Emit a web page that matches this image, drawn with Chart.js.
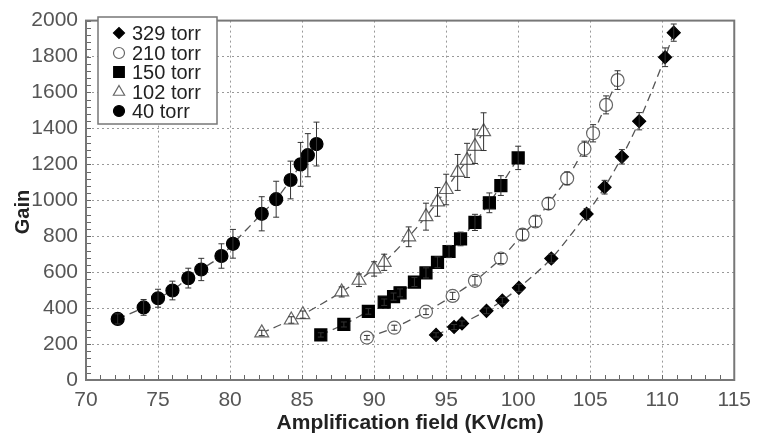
<!DOCTYPE html>
<html><head><meta charset="utf-8">
<script src="https://cdn.jsdelivr.net/npm/chart.js@4/dist/chart.umd.min.js"></script>
<style>html,body{margin:0;padding:0;background:#fff}#wrap{width:759px;height:441px}</style>
</head><body><div id="wrap"><canvas id="c" width="759" height="441"></canvas></div>
<script>
// ---- data ----
const labels = ["329 torr", "210 torr", "150 torr", "102 torr", "40 torr"];

const field329 = [94.3, 95.55, 96.1, 97.8, 98.9, 100.05, 102.3, 104.75, 106.0, 107.2, 108.4, 110.2, 110.8];
const gain329  = [251, 295, 315, 385, 442, 513, 676, 924, 1073, 1242, 1440, 1796, 1933];
const err329   = [12, 14, 14, 16, 18, 20, 24, 30, 38, 40, 48, 52, 48];

const field210 = [89.5, 91.4, 93.6, 95.45, 97.0, 98.8, 100.3, 101.2, 102.1, 103.4, 104.6, 105.2, 106.1, 106.9];
const gain210  = [236, 291, 380, 468, 552, 676, 809, 882, 982, 1122, 1287, 1373, 1531, 1669];
const err210   = [12, 14, 16, 20, 24, 28, 30, 30, 32, 36, 42, 48, 50, 52];

const field150 = [86.3, 87.9, 89.6, 90.7, 91.35, 91.8, 92.8, 93.6, 94.4, 95.2, 96.0, 97.0, 98.0, 98.8, 100.0];
const gain150  = [251, 309, 382, 433, 464, 485, 545, 596, 655, 715, 785, 877, 986, 1082, 1236];
const err150   = [12, 14, 16, 18, 20, 22, 25, 28, 30, 34, 38, 45, 55, 55, 65];

const field102 = [82.2, 84.25, 85.05, 87.75, 88.95, 90.0, 90.7, 92.4, 93.6, 94.4, 95.0, 95.8, 96.45, 97.0, 97.6];
const gain102  = [262, 334, 364, 490, 555, 618, 655, 797, 909, 991, 1060, 1155, 1222, 1300, 1382];
const err102   = [15, 18, 20, 28, 35, 40, 45, 55, 75, 80, 85, 100, 95, 95, 105];

const field40 = [72.2, 74.0, 75.0, 76.0, 77.1, 78.0, 79.4, 80.2, 82.2, 83.2, 84.2, 84.9, 85.4, 86.0];
const gain40  = [340, 404, 455, 498, 567, 615, 690, 758, 925, 1006, 1113, 1200, 1251, 1313];
const err40   = [28, 44, 50, 52, 55, 62, 68, 80, 95, 100, 105, 122, 120, 122];

const xTicks = [70, 75, 80, 85, 90, 95, 100, 105, 110, 115];
const yTicks = [0, 200, 400, 600, 800, 1000, 1200, 1400, 1600, 1800, 2000];
const xTitle = 'Amplification field (KV/cm)';
const yTitle = 'Gain';

// ---- styles ----
const styles = [
  {pointStyle: 'rectRot', radius: 6.5, fill: '#000', stroke: '#000'},
  {pointStyle: 'circle', radius: 6.5, fill: '#fff', stroke: '#666'},
  {pointStyle: 'rect', radius: 8.5, fill: '#000', stroke: '#000'},
  {pointStyle: 'triangle', radius: 8, fill: '#fff', stroke: '#666'},
  {pointStyle: 'circle', radius: 6.5, fill: '#000', stroke: '#000'}
];
const fields = [field329, field210, field150, field102, field40];
const gains = [gain329, gain210, gain150, gain102, gain40];
const errs = [err329, err210, err150, err102, err40];

const datasets = labels.map((lab, i) => ({
  label: lab,
  data: fields[i].map((x, j) => ({x: x, y: gains[i][j]})),
  errors: errs[i],
  showLine: true,
  borderColor: '#555',
  borderWidth: 1.3,
  borderDash: [8, 5],
  tension: 0.3,
  pointStyle: styles[i].pointStyle,
  pointRadius: styles[i].radius,
  pointHoverRadius: styles[i].radius,
  pointBackgroundColor: styles[i].fill,
  pointBorderColor: styles[i].stroke,
  pointBorderWidth: 1.2
}));

const FONT = "'Liberation Sans', Arial, sans-serif";

const errorBars = {
  id: 'errorBars',
  afterDatasetsDraw(chart) {
    const ctx = chart.ctx, xs = chart.scales.x, ys = chart.scales.y;
    ctx.save();
    ctx.strokeStyle = '#333';
    ctx.lineWidth = 1;
    chart.data.datasets.forEach(ds => {
      ds.data.forEach((p, j) => {
        const e = ds.errors[j];
        const px = xs.getPixelForValue(p.x);
        const y1 = ys.getPixelForValue(p.y - e), y2 = ys.getPixelForValue(p.y + e);
        ctx.beginPath();
        ctx.moveTo(px, y1); ctx.lineTo(px, y2);
        ctx.moveTo(px - 3, y1); ctx.lineTo(px + 3, y1);
        ctx.moveTo(px - 3, y2); ctx.lineTo(px + 3, y2);
        ctx.stroke();
      });
    });
    ctx.restore();
  }
};

const frame = {
  id: 'frame',
  afterDraw(chart) {
    const ctx = chart.ctx, a = chart.chartArea, xs = chart.scales.x, ys = chart.scales.y;
    ctx.save();
    // minor ticks
    ctx.strokeStyle = '#666'; ctx.lineWidth = 1;
    ctx.beginPath();
    for (let v = xs.min; v <= xs.max; v += 1) {
      const px = Math.round(xs.getPixelForValue(v)) + 0.5;
      ctx.moveTo(px, a.bottom); ctx.lineTo(px, a.bottom - 5);
    }
    for (let v = ys.min; v <= ys.max; v += 40) {
      const py = Math.round(ys.getPixelForValue(v)) + 0.5;
      ctx.moveTo(a.left, py); ctx.lineTo(a.left + 5, py);
    }
    ctx.stroke();
    ctx.strokeStyle = '#777'; ctx.lineWidth = 2;
    ctx.strokeRect(a.left, a.top, a.right - a.left, a.bottom - a.top);
    // y title
    ctx.save();
    ctx.translate(22, 212);
    ctx.rotate(-Math.PI / 2);
    ctx.fillStyle = '#222';
    ctx.font = 'bold 20px ' + FONT;
    ctx.textAlign = 'center'; ctx.textBaseline = 'middle';
    ctx.fillText(yTitle, 0, 1);
    ctx.restore();
    // legend
    const bx = 98, by = 17, bw = 119, bh = 107;
    ctx.fillStyle = '#fff';
    ctx.fillRect(bx, by, bw, bh);
    ctx.strokeStyle = '#777'; ctx.lineWidth = 1.5;
    ctx.strokeRect(bx, by, bw, bh);
    const rowY = [33, 53, 72, 92, 111];
    chart.data.datasets.forEach((ds, i) => {
      const st = styles[i];
      const r = st.pointStyle === 'triangle' ? 6.5 : (st.pointStyle === 'rect' ? 7.5 : 5.5);
      ctx.fillStyle = st.fill; ctx.strokeStyle = st.stroke; ctx.lineWidth = 1.2;
      Chart.helpers.drawPoint(ctx, {pointStyle: st.pointStyle, radius: r, rotation: 0, borderWidth: 1.2}, 119, rowY[i]);
      ctx.fillStyle = '#222';
      ctx.font = '20px ' + FONT;
      ctx.textBaseline = 'middle';
      ctx.textAlign = 'left';
      ctx.fillText(ds.label, 132, rowY[i] + 1);
    });
    ctx.restore();
  }
};

new Chart(document.getElementById('c'), {
  type: 'scatter',
  data: {datasets: datasets},
  options: {
    responsive: false,
    animation: false,
    events: [],
    layout: {padding: {left: 0, top: 13, right: 19, bottom: 0}},
    plugins: {legend: {display: false}, tooltip: {enabled: false}},
    scales: {
      x: {
        type: 'linear', min: 70, max: 115,
        afterBuildTicks: s => { s.ticks = xTicks.map(v => ({value: v})); },
        afterFit: s => { s.height = 61; },
        ticks: {color: '#555', font: {family: FONT, size: 21}, padding: 8, maxRotation: 0, autoSkip: false,
                callback: v => String(v)},
        grid: {color: '#999', lineWidth: 1, drawTicks: false},
        border: {display: true, dash: [2, 3], color: '#777'},
        title: {display: true, text: xTitle, color: '#222',
                font: {family: FONT, size: 21, weight: 'bold'}, padding: {top: 0, bottom: 5}}
      },
      y: {
        type: 'linear', min: 0, max: 2000,
        afterBuildTicks: s => { s.ticks = yTicks.map(v => ({value: v})); },
        afterFit: s => { s.width = 86; },
        ticks: {color: '#555', font: {family: FONT, size: 21}, padding: 8, autoSkip: false,
                callback: v => String(v)},
        grid: {color: '#999', lineWidth: 1, drawTicks: false},
        border: {display: true, dash: [2, 3], color: '#777'},
        title: {display: false}
      }
    }
  },
  plugins: [errorBars, frame]
});
</script></body></html>
